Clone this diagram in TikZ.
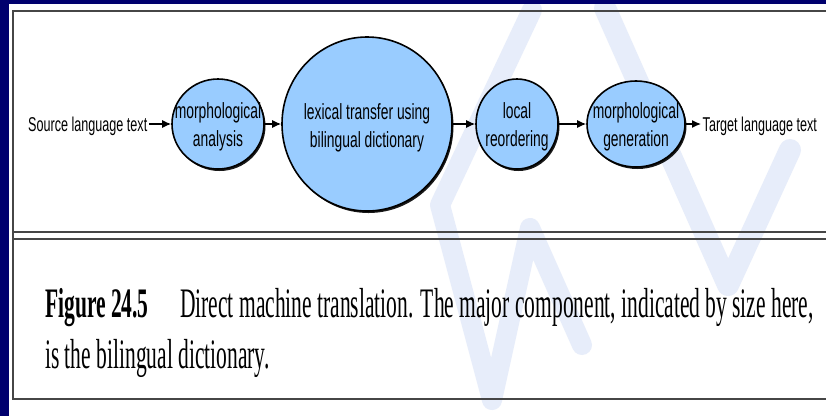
\documentclass[tikz,border=0pt]{standalone}
\usepackage{fontspec}
\usetikzlibrary{arrows.meta,shadows,shapes.geometric}
\newfontfamily\sansnar[FakeStretch=0.63]{Liberation Sans}
\newfontfamily\capserif[FakeStretch=0.512]{Liberation Serif}
\definecolor{navy}{RGB}{0,0,110}
\definecolor{bubble}{RGB}{153,204,255}
\definecolor{wmark}{RGB}{231,237,250}
\definecolor{rulecol}{RGB}{70,70,70}
\begin{document}
\begin{tikzpicture}[x=1pt,y=-1pt,
  stage/.style={ellipse, draw=black, line width=1.6pt, fill=bubble, inner sep=0pt,
    drop shadow={shadow xshift=1.5pt, shadow yshift=-2pt, fill=black, opacity=0.9}},
  stagetext/.style={inner sep=0pt, align=center, font=\sansnar\fontsize{22}{28}\selectfont},
  outer/.style={inner sep=1.5pt, font=\sansnar\fontsize{20}{24}\selectfont},
  arr/.style={line width=1.3pt, -{Latex[length=9pt,width=8pt]}},
  frame/.style={draw=rulecol, line width=2.2pt},
  wmline/.style={draw=wmark, line join=round, line cap=round},
  captxt/.style={inner sep=0pt, font=\capserif\fontsize{42}{50}\selectfont}]
\useasboundingbox (0,0) rectangle (826,416);
\fill[white] (0,0) rectangle (826,416);
% watermark
\draw[wmline, line width=20pt] (532,10) -- (440,205) -- (492,400) -- (530,228) -- (582,345);
\draw[wmline, line width=22pt] (605,8) -- (728,285) -- (790,150);
% navy border
\fill[navy] (0,0) rectangle (826,4);
\fill[navy] (0,0) rectangle (9,416);
% frame
\draw[frame] (826,11) -- (13,11) -- (13,399) -- (826,399);
\draw[frame] (13,232) -- (826,232);
\draw[frame] (13,239) -- (826,239);
% diagram
\node[outer, anchor=base east] (src) at (149,131.5) {Source language text};
\node[stage, minimum width=92pt, minimum height=90pt] (ma) at (218,124) {};
\node[stagetext] (mat) at (218,127) {morphological\\analysis};
\node[stage, minimum width=170pt, minimum height=174pt] (lex) at (367,124) {};
\node[stagetext] (lext) at (367,128) {lexical transfer using\\bilingual dictionary};
\node[stage, minimum width=82pt, minimum height=90pt] (lr) at (517,124) {};
\node[stagetext] (lrt) at (517,127) {local\\reordering};
\node[stage, minimum width=98pt, minimum height=86pt] (mg) at (636,124) {};
\node[stagetext] (mgt) at (636,127) {morphological\\generation};
\node[outer, anchor=base west] (tgt) at (701,131.5) {Target language text};
\draw[arr] (src.east |- ma) -- (ma.west);
\draw[arr] (ma.east) -- (lex.west);
\draw[arr] (lex.east) -- (lr.west);
\draw[arr] (lr.east) -- (mg.west);
\draw[arr] (mg.east) -- (tgt.west |- mg);
% caption
\node[captxt, anchor=base west] (fig) at (45,317) {\bfseries Figure 24.5};
\node[captxt, anchor=base west] (cap1) at (180,317) {Direct machine translation. The major component, indicated by size here,};
\node[captxt, anchor=base west] (cap2) at (45,368) {is the bilingual dictionary.};
\end{tikzpicture}
\end{document}
